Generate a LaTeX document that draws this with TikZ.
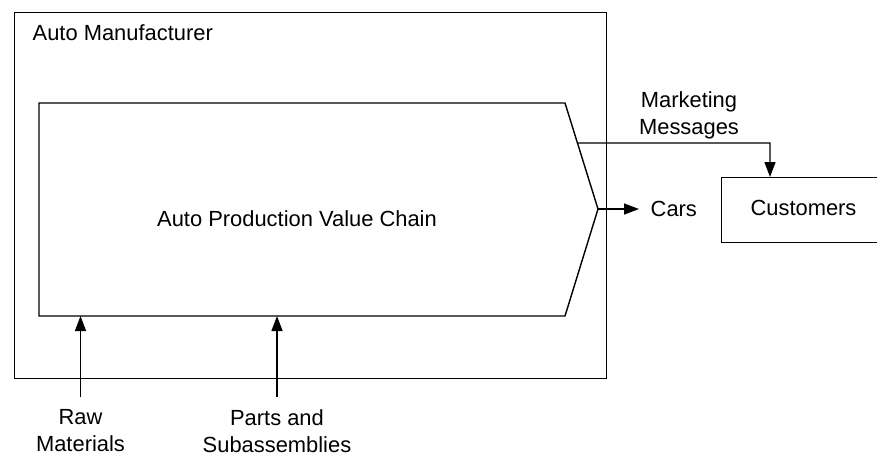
\documentclass[tikz,border=0pt]{standalone}
\usepackage{fontspec}
\setmainfont{Liberation Sans}
\usetikzlibrary{arrows.meta,calc}
\begin{document}
\begin{tikzpicture}[x=1pt,y=-1pt,line width=1.4pt,
  lbl/.style={font=\fontsize{21.9}{26.5}\selectfont,inner sep=0pt,align=center},
  box/.style={draw,inner sep=0pt,anchor=north west},
  flow/.style={-{Triangle[length=15pt,width=11pt]}}]
\useasboundingbox (0,0) rectangle (877,456);
\clip (0,0) rectangle (877,456);

% manufacturer boundary
\node[box,minimum width=592pt,minimum height=366pt] (mfr) at (14,12) {};
\node[lbl,anchor=base west] (mfrlabel) at (32,40) {Auto Manufacturer};

% value chain chevron
\coordinate (vcTL) at (39,103);
\coordinate (vcTR) at (565,103);
\coordinate (vcTip) at (598,209);
\coordinate (vcBR) at (565,316);
\coordinate (vcBL) at (39,316);
\draw (vcTL) -- (vcTR) -- (vcTip) -- (vcBR) -- (vcBL) -- cycle;
\node[lbl,anchor=base] (vc) at (297,226) {Auto Production Value Chain};

% customers
\node[box,minimum width=164pt,minimum height=65pt] (cust) at (721,177) {};
\node[lbl,anchor=base] (custlabel) at (803.5,215.5) {Customers};

% labels
\node[lbl] (mkt) at (689,115.5) {Marketing\\Messages};
\node[lbl,anchor=base west] (cars) at (650,216) {Cars};
\node[lbl,anchor=north] (raw) at (80.5,409) {Raw\\Materials};
\node[lbl,anchor=north] (parts) at (277,409) {Parts and\\Subassemblies};

% flows
\coordinate (mstart) at ($(vcTR)!0.377!(vcTip)$);
\coordinate (mturn) at (770,143);
\draw[flow] (mstart) -- (mturn) -- (mturn |- cust.north);
\draw[flow,shorten >=11pt] (vcTip) -- (vcTip -| cars.west);
\draw[flow,shorten <=12pt] (raw.north) -- (raw.north |- vcBL);
\draw[flow,shorten <=12pt] (parts.north) -- (parts.north |- vcBL);
\end{tikzpicture}
\end{document}
